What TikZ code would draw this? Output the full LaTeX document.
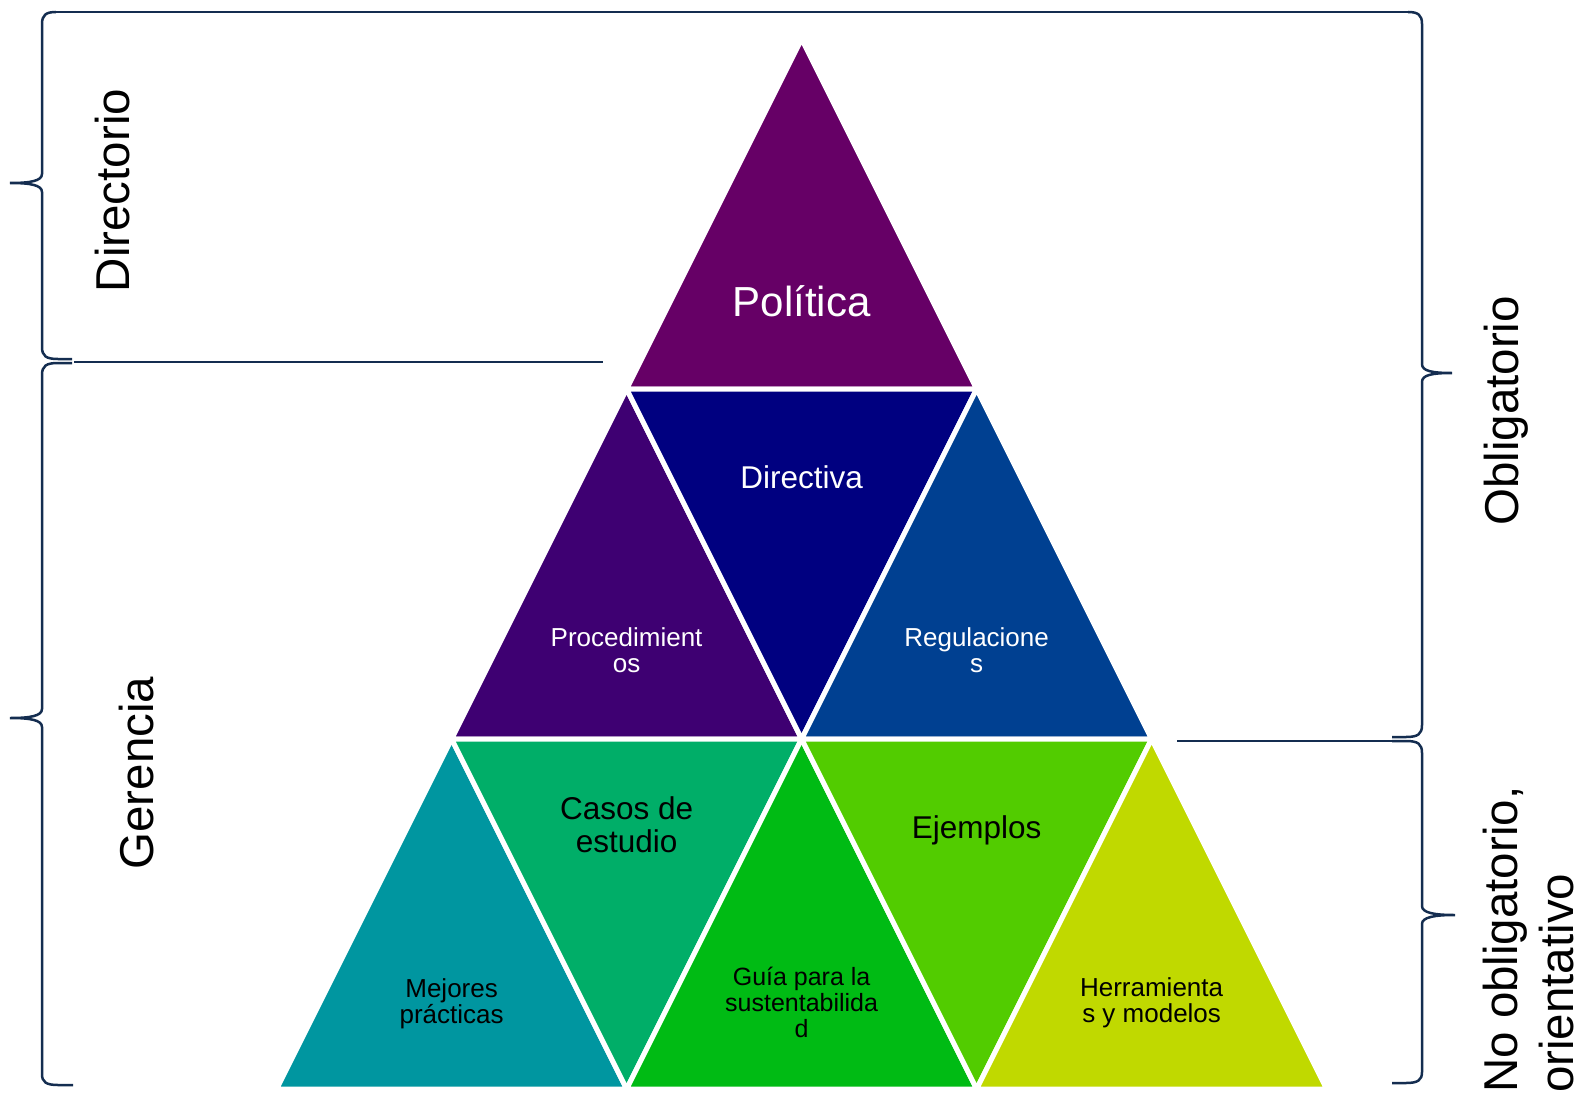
\documentclass[tikz,border=0pt]{standalone}
\usepackage{fontspec}
\setmainfont{Liberation Sans}
\definecolor{cPol}{RGB}{102,0,102}
\definecolor{cDir}{RGB}{0,0,128}
\definecolor{cPro}{RGB}{62,0,114}
\definecolor{cReg}{RGB}{0,64,145}
\definecolor{cMej}{RGB}{0,150,160}
\definecolor{cCas}{RGB}{0,174,104}
\definecolor{cGui}{RGB}{0,187,20}
\definecolor{cEje}{RGB}{82,204,0}
\definecolor{cHer}{RGB}{192,217,0}
\definecolor{braceblue}{RGB}{20,45,80}
\begin{document}
\begin{tikzpicture}[x=1pt,y=-1pt,
  tri/.style={draw=white, line width=5pt, line join=round},
  lbl/.style={inner sep=0pt, align=center},
  big/.style={font=\fontsize{42}{50}\selectfont},
  mid/.style={font=\fontsize{31.5}{33}\selectfont},
  small/.style={font=\fontsize{26}{26}\selectfont},
  tiny/.style={font=\fontsize{25}{26}\selectfont},
  side/.style={inner sep=0pt, rotate=90, font=\fontsize{47.5}{56}\selectfont},
  bracepath/.style={draw=braceblue, line width=2.5pt}]
\useasboundingbox (0,0) rectangle (1581,1094);

% row 0
\path[tri, fill=cPol] (801.6,39) -- (976.6,389) -- (626.6,389) -- cycle;
% row 1
\path[tri, fill=cPro] (626.6,389) -- (801.6,739) -- (451.6,739) -- cycle;
\path[tri, fill=cDir] (626.6,389) -- (976.6,389) -- (801.6,739) -- cycle;
\path[tri, fill=cReg] (976.6,389) -- (1151.6,739) -- (801.6,739) -- cycle;
% row 2
\path[tri, fill=cMej] (451.6,739) -- (626.6,1089) -- (276.6,1089) -- cycle;
\path[tri, fill=cCas] (451.6,739) -- (801.6,739) -- (626.6,1089) -- cycle;
\path[tri, fill=cGui] (801.6,739) -- (976.6,1089) -- (626.6,1089) -- cycle;
\path[tri, fill=cEje] (801.6,739) -- (1151.6,739) -- (976.6,1089) -- cycle;
\path[tri, fill=cHer] (1151.6,739) -- (1326.6,1089) -- (976.6,1089) -- cycle;

% labels in triangles
\node[lbl, big, white, anchor=base] (pol) at (801.6,316) {Política};
\node[lbl, mid, white, anchor=base] (dir) at (801.6,488) {Directiva};
\node[lbl, small, white] (pro) at (626.6,650.5) {Procedimient\\os};
\node[lbl, small, white] (reg) at (976.6,650.5) {Regulacione\\s};
\node[lbl, mid, black] (cas) at (626.6,825) {Casos de\\estudio};
\node[lbl, mid, black, anchor=base] (eje) at (976.6,838) {Ejemplos};
\node[lbl, small, black] (mej) at (451.6,1004) {Mejores\\prácticas};
\node[lbl, tiny, black] (gui) at (801.6,1002) {Guía para la\\sustentabilida\\d};
\node[lbl, small, black] (her) at (1151.6,1003) {Herramienta\\s y modelos};

% side labels
\node[side, anchor=base] (dtr) at (129,190.6) {Directorio};
\node[side, anchor=base] (ger) at (153,773) {Gerencia};
\node[side, anchor=base] (obl) at (1518,411) {Obligatorio};
\node[side, anchor=north west, align=left] (nob) at (1482.5,1093) {No obligatorio,\\orientativo};

% braces
\coordinate (topL) at (56,12);
\coordinate (topR) at (1408,12);
\coordinate (lineLa) at (74,362);
\coordinate (lineLb) at (603,362);
\coordinate (lineRa) at (1177,741);
\coordinate (lineRb) at (1392,741);

\draw[bracepath] (topL) -- (topR);
\draw[bracepath] (topL) .. controls (46,12) and (42,15) .. (42,24) -- (42,174)
  .. controls (42,181) and (30,183) .. (10,183)
  .. controls (30,183) and (42,185) .. (42,192) -- (42,347)
  .. controls (42,356) and (46,359) .. (58,359) -- (72,359);
\draw[bracepath] (72,363) -- (58,363) .. controls (46,363) and (42,366) .. (42,375) -- (42,709)
  .. controls (42,716) and (30,718) .. (10,718)
  .. controls (30,718) and (42,720) .. (42,727) -- (42,1074)
  .. controls (42,1082) and (46,1085) .. (58,1085) -- (73,1085);
\draw[bracepath] (topR) .. controls (1418,12) and (1422,15) .. (1422,24) -- (1422,364)
  .. controls (1422,371) and (1432,373) .. (1452,373)
  .. controls (1432,373) and (1422,375) .. (1422,382) -- (1422,725)
  .. controls (1422,734) and (1418,737) .. (1406,737) -- (1392,737);
\draw[bracepath] (lineRb) -- (1406,741) .. controls (1418,741) and (1422,744) .. (1422,753) -- (1422,906)
  .. controls (1422,913) and (1435,915) .. (1455,915)
  .. controls (1435,915) and (1422,917) .. (1422,924) -- (1422,1072)
  .. controls (1422,1080) and (1418,1083) .. (1406,1083) -- (1392,1083);
\draw[bracepath] (lineLa) -- (lineLb);
\draw[bracepath] (lineRa) -- (lineRb);
\end{tikzpicture}
\end{document}
